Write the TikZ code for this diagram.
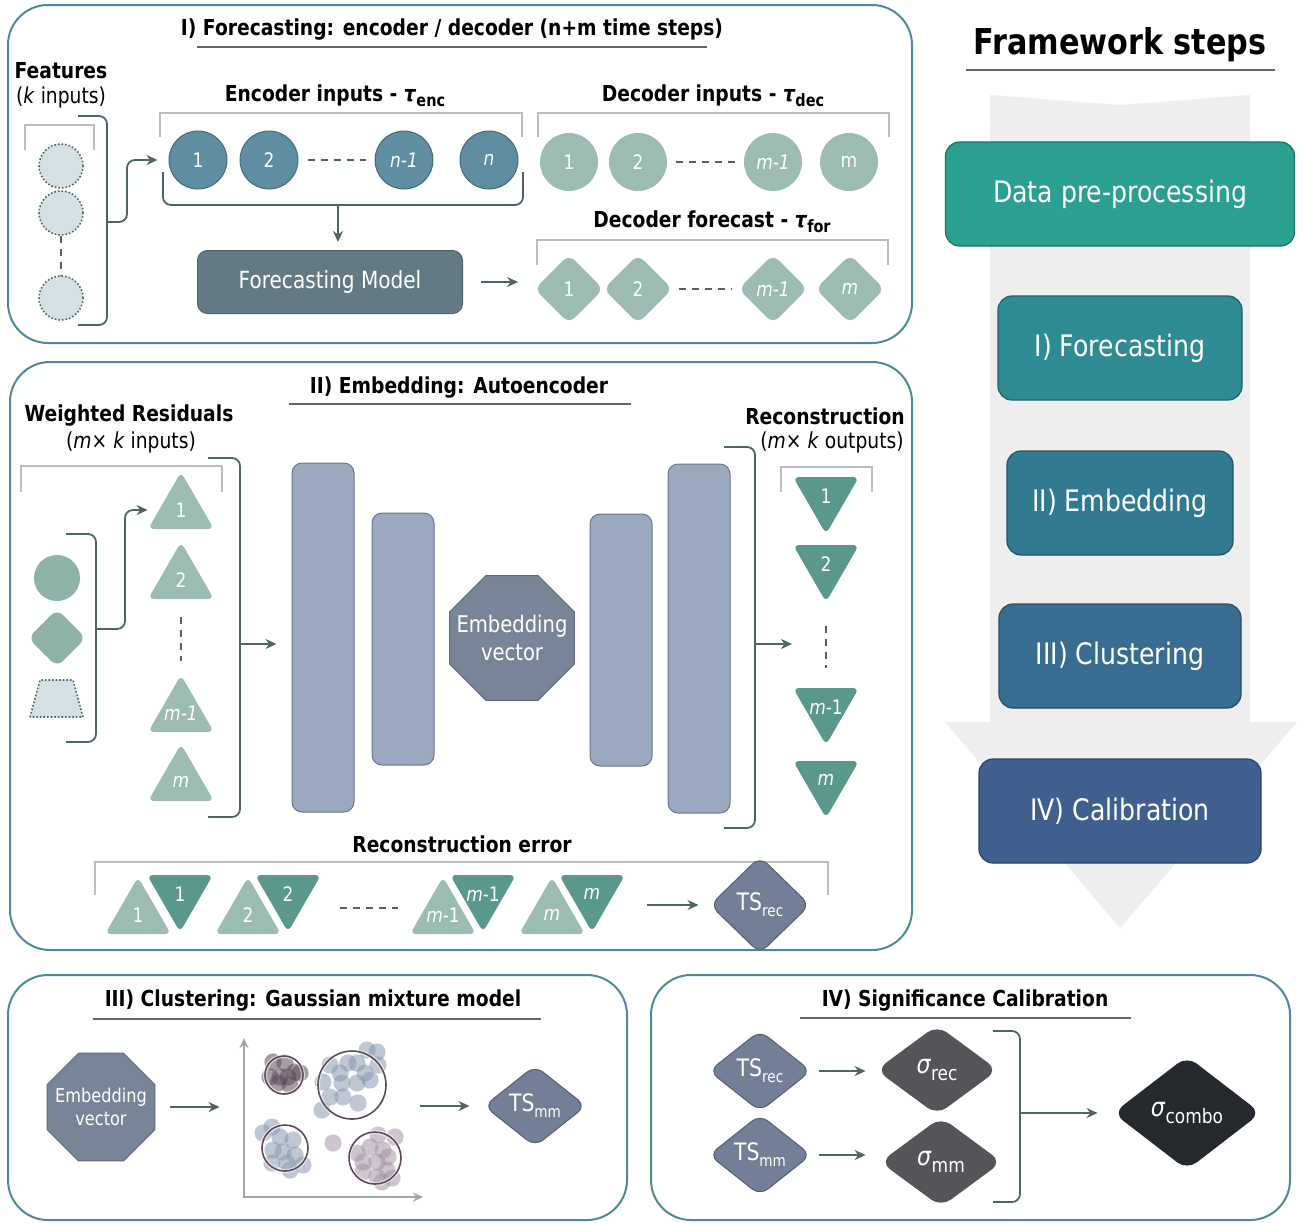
\documentclass[tikz,border=0pt]{standalone}
\usepackage{fontspec}
\setmainfont{DejaVu Sans}[FakeStretch=0.85]
\usetikzlibrary{shapes.geometric,arrows.meta,positioning}

\definecolor{panelc}{HTML}{4B8A9C}
\definecolor{linkc}{HTML}{4E6662}
\definecolor{bracketc}{HTML}{BDBDBD}
\definecolor{encc}{HTML}{5F8DA1}
\definecolor{sagec}{HTML}{9CBBB1}
\definecolor{resc}{HTML}{8DB2A7}
\definecolor{recc}{HTML}{5A978D}
\definecolor{modelc}{HTML}{637A85}
\definecolor{barc}{HTML}{9AA9BF}
\definecolor{octc}{HTML}{788598}
\definecolor{tsc}{HTML}{737F96}
\definecolor{sigc}{HTML}{535559}
\definecolor{comboc}{HTML}{25282C}
\definecolor{featc}{HTML}{D5E0E4}
\definecolor{flowc}{HTML}{EEEEEE}
\definecolor{stepa}{HTML}{2AA090}
\definecolor{stepb}{HTML}{2E8A93}
\definecolor{stepc}{HTML}{327A92}
\definecolor{stepd}{HTML}{386C90}
\definecolor{stepe}{HTML}{3F5F8F}
\definecolor{ptblue}{HTML}{8A9AB0}
\definecolor{ptdark}{HTML}{5D4C5B}
\definecolor{ptmauve}{HTML}{A494A6}
\definecolor{ringc}{HTML}{5E4A5A}

\newcommand{\fs}[1]{\fontsize{#1}{#1}\selectfont}
\newcommand{\subs}[2]{\raisebox{-0.45ex}{\fs{#1}#2}}

\tikzset{
  panel/.style={draw=panelc, line width=1pt, rounded corners=20pt},
  link/.style={draw=linkc, line width=0.9pt, -{Stealth[length=5.5pt,width=5pt]}},
  brack/.style={draw=linkc, line width=0.9pt, rounded corners=4pt},
  graybrack/.style={draw=bracketc, line width=1.3pt},
  dashline/.style={draw=linkc, line width=0.9pt, dash pattern=on 3.5pt off 3pt},
  uline/.style={draw=black!60, line width=0.9pt},
  ttl/.style={font=\bfseries\fs{11}},
  lbl/.style={font=\fs{11}},
  tlab/.style={text=white, font=\fs{10}, inner sep=0pt},
  octlab/.style={text=white, align=center, inner sep=0pt},
  encnode/.style={circle, minimum size=29pt, inner sep=0pt, fill=encc, draw=encc!75!black, line width=0.5pt, text=white, font=\fs{10}},
  decnode/.style={circle, minimum size=29pt, inner sep=0pt, fill=sagec, text=white, font=\fs{10}},
  fornode/.style={diamond, minimum width=34.5pt, minimum height=34.5pt, inner sep=0pt, rounded corners=4pt, fill=sagec, text=white, font=\fs{10}},
  featnode/.style={circle, minimum size=22pt, inner sep=0pt, fill=featc, draw=linkc, densely dotted, line width=0.8pt},
  uptri/.style={regular polygon, regular polygon sides=3, minimum size=38pt, inner sep=0pt, rounded corners=3pt, fill=sagec},
  downtri/.style={uptri, shape border rotate=180, fill=recc},
  bar/.style={rectangle, rounded corners=5pt, fill=barc, draw=barc!70!black, line width=0.5pt, minimum width=31pt, inner sep=0pt},
  octa/.style={regular polygon, regular polygon sides=8, inner sep=0pt, fill=octc, draw=octc!80!black, line width=0.5pt},
  tsnode/.style={diamond, rounded corners=5pt, inner sep=0pt, fill=tsc, draw=tsc!75!black, line width=0.5pt, text=white, font=\fs{12}},
  signode/.style={diamond, rounded corners=6pt, inner sep=0pt, fill=sigc, text=white, font=\fs{13}},
  stepbox/.style={rectangle, rounded corners=7pt, minimum height=52pt, fill=#1, draw=#1!70!black, line width=0.6pt, text=white, font=\fs{14.8}},
  axisline/.style={draw=black!35, line width=0.9pt, {Stealth[length=5pt,width=4.5pt]}-{Stealth[length=5pt,width=4.5pt]}},
  ringline/.style={draw=ringc, line width=0.8pt},
}

\begin{document}
\begin{tikzpicture}[x=0.5pt, y=-0.5pt]
\fill[white] (0,0) rectangle (1304,1222);
\useasboundingbox (0,0) rectangle (1304,1222);

% panels
\draw[panel] (8,5) rectangle (912,343);
\draw[panel] (10,362) rectangle (912,950);
\draw[panel] (8,975) rectangle (627,1220);
\draw[panel] (651,975) rectangle (1290,1220);

% framework steps
\node[font=\bfseries\fs{17.8}] (fwt) at (1120,45) {Framework steps};
\draw[uline] (966,70) -- (1275,70);
\fill[flowc] (990,95) -- (1120,105) -- (1250,95) -- (1250,722) -- (1297,722) -- (1120,928) -- (945,722) -- (990,722) -- cycle;
\node[stepbox=stepa, minimum width=174.5pt] (s0) at (1120,194) {Data pre-processing};
\node[stepbox=stepb, minimum width=122pt] (s1) at (1120,348) {I) Forecasting};
\node[stepbox=stepc, minimum width=113pt] (s2) at (1120,503) {II) Embedding};
\node[stepbox=stepd, minimum width=121pt] (s3) at (1120,656) {III) Clustering};
\node[stepbox=stepe, minimum width=141pt] (s4) at (1120,811) {IV) Calibration};

% I) forecasting
\node[ttl] (t1) at (452,30) {I) Forecasting: encoder / decoder (n+m time steps)};
\draw[uline] (197,47) -- (707,47);

\node[ttl] (feat) at (61,71) {Features};
\node[lbl] (featk) at (61,97) {(\textit{k} inputs)};
\draw[graybrack] (25,150) |- (94,125) -- (94,150);
\foreach \i/\y in {1/166, 2/213, 3/298}
  \node[featnode] (f\i) at (61,\y) {};
\draw[dashline] (f2) -- (f3);
\draw[brack] (78,116) -- (107,116) -- (107,325) -- (78,325);
\coordinate (fmid) at (107,222);

\node[ttl] (enct) at (335,96) {Encoder inputs - \textit{τ}\subs{8.5}{enc}};
\draw[graybrack] (160,137) |- (522,113) -- (522,137);
\foreach \i/\x/\t in {1/198/1, 2/269/2, 3/404/\textit{n-1}, 4/489/\textit{n}}
  \node[encnode] (e\i) at (\x,160) {\t};
\draw[dashline, shorten <=4.5pt, shorten >=4.5pt] (e2) -- (e3);
\draw[link, rounded corners=4pt, shorten >=5.5pt] (fmid) -- ++(20,0) |- (e1.west);
\draw[brack] (163,172) -- (163,205) -- (523,205) -- (523,172);
\coordinate (emid) at (338,205);

\node[rectangle, rounded corners=5pt, fill=modelc, draw=modelc!80!black, line width=0.5pt, minimum width=132.5pt, minimum height=31.5pt, text=white, font=\fs{11.8}] (model) at (330,282) {Forecasting Model};
\draw[link, shorten >=4pt] (emid) -- (emid |- model.north);

\node[ttl] (dect) at (713,96) {Decoder inputs - \textit{τ}\subs{8.5}{dec}};
\draw[graybrack] (538,137) |- (889,113) -- (889,137);
\foreach \i/\x/\t in {1/569/1, 2/638/2, 3/773/\textit{m-1}, 4/849/m}
  \node[decnode] (d\i) at (\x,162) {\t};
\draw[dashline, shorten <=4.5pt, shorten >=4.5pt] (d2) -- (d3);

\node[ttl] (fort) at (712,222) {Decoder forecast - \textit{τ}\subs{8.5}{for}};
\draw[graybrack] (537,265) |- (888,240) -- (888,265);
\foreach \i/\x/\t in {1/569/1, 2/638/2, 3/773/\textit{m-1}, 4/850/\textit{m}}
  \node[fornode] (g\i) at (\x,289) {\t};
\draw[dashline, shorten <=3pt, shorten >=3pt] (g2) -- (g3);
\draw[link, shorten <=9pt, shorten >=8pt] (model.east) -- (model.east -| g1.west);

% II) embedding
\node[ttl] (t2) at (459,388) {II) Embedding: Autoencoder};
\draw[uline] (289,404) -- (631,404);

\node[ttl] (wrt) at (129,416) {Weighted Residuals};
\node[lbl] (wrk) at (131,442) {(\textit{m}× \textit{k} inputs)};
\draw[graybrack] (21,492) |- (222,466) -- (222,492);
\node[circle, minimum size=23pt, inner sep=0pt, fill=resc] (rc) at (57,578) {};
\node[diamond, minimum width=29pt, minimum height=29pt, inner sep=0pt, rounded corners=4pt, fill=resc] (rd) at (57,638) {};
\draw[fill=featc, draw=linkc, densely dotted, line width=0.8pt] (30,717) -- (40,680) -- (73,680) -- (83,717) -- cycle;
\draw[brack] (66,534) -- (96,534) -- (96,742) -- (66,742);
\coordinate (rmid) at (96,629);

\foreach \i/\y/\t in {1/510/1, 2/580/2, 3/713/\textit{m-1}, 4/782/\textit{m}}
  \node[uptri, label={[tlab]center:\t}] (w\i) at (181,\y) {};
\draw[dashline, shorten <=9pt, shorten >=6.5pt] (w2) -- (w3);
\draw[link, rounded corners=4pt, shorten >=5.5pt] (rmid) -- ++(29,0) |- (w1.west);

\draw[brack] (208,458) -- (240,458) -- (240,817) -- (208,817);
\coordinate (lmid) at (240,644);

\node[bar, minimum height=174.5pt] (bar1) at (323,637.5) {};
\node[bar, minimum height=126pt] (bar2) at (403,639) {};
\node[octa, minimum size=67.6pt, label={[octlab, font=\fontsize{11.5}{14}\selectfont]center:{Embedding\\vector}}] (emb) at (512,638) {};
\node[bar, minimum height=126pt] (bar3) at (621,640) {};
\node[bar, minimum height=174.5pt] (bar4) at (699,638.5) {};
\draw[link, shorten >=7.5pt] (lmid) -- (lmid -| bar1.west);

\draw[brack] (724,447) -- (755,447) -- (755,828) -- (724,828);
\coordinate (rbmid) at (755,644);
\coordinate (rdots) at (792,644);
\draw[link] (rbmid) -- (rdots);

\node[ttl] (rect) at (825,416) {Reconstruction};
\node[lbl] (reck) at (832,442) {(\textit{m}× \textit{k} outputs)};
\draw[graybrack] (781,492) |- (872,467) -- (872,492);
\foreach \i/\y/\t in {1/496/1, 2/564/2, 3/707/\textit{m}-1, 4/780/\textit{m}}
  \node[downtri, label={[tlab]center:\t}] (r\i) at (826,\y) {};
\draw[dashline, shorten <=11.5pt, shorten >=10pt] (r2) -- (r3);

\node[ttl] (errt) at (462,844) {Reconstruction error};
\draw[graybrack] (95,895) |- (828,862) -- (828,895);
\foreach \i/\xa/\xb/\t in {1/138/180/1, 2/248/288/2, 3/443/483/\textit{m}-1, 4/552/592/\textit{m}} {
  \node[uptri, label={[tlab]center:\t}] (p\i) at (\xa,915) {};
  \node[downtri, label={[tlab]center:\t}] (q\i) at (\xb,894) {};
}
\draw[dashline] (340,908) -- (398,908);
\node[tsnode, minimum width=50pt, minimum height=48.5pt] (tsrec) at (760,905) {TS\subs{8}{rec}};
\draw[link, shorten <=16.5pt, shorten >=5.5pt] (q4.east |- tsrec.west) -- (tsrec.west);

% III) clustering
\node[ttl] (t3) at (313,1000) {III) Clustering: Gaussian mixture model};
\draw[uline] (93,1019) -- (541,1019);
\node[octa, minimum size=58.4pt, label={[octlab, font=\fontsize{9.5}{11.5}\selectfont]center:{Embedding\\vector}}] (emb2) at (101,1107) {};
\node[minimum width=87pt, minimum height=79.5pt, inner sep=0pt] (plot) at (331,1117.5) {};
\draw[axisline] (244,1038) -- (244,1197) -- (423,1197);
\foreach \x/\y in {367/1050, 377/1052, 378/1065, 357/1063, 348/1063, 330/1065, 340/1073, 365/1073, 323/1082, 342/1083, 357/1083, 370/1080, 330/1097, 343/1097, 358/1103, 322/1110,
    263/1133, 272/1127, 280/1137, 293/1140, 273/1150, 283/1152, 295/1155, 272/1163, 287/1163, 303/1165, 290/1170}
  \fill[ptblue, fill opacity=0.55] (\x,\y) circle (4.3pt);
\foreach \x/\y in {273/1062, 285/1063, 295/1072, 270/1077, 280/1077, 288/1077, 278/1083, 290/1085, 300/1073}
  \fill[ptdark, fill opacity=0.55] (\x,\y) circle (4.3pt);
\foreach \x/\y in {333/1143, 378/1135, 395/1137, 357/1153, 370/1147, 383/1150, 363/1162, 377/1162, 388/1157, 387/1170, 363/1172, 377/1177, 392/1178, 382/1182}
  \fill[ptmauve, fill opacity=0.55] (\x,\y) circle (4.3pt);
\foreach \x/\y/\r in {284/1075/9.5pt, 352/1085/17pt, 285/1148/11.5pt, 375/1158/13pt} {
  \draw[white, line width=2pt, opacity=0.6] (\x,\y) circle (\r);
  \draw[ringline] (\x,\y) circle (\r);
}
\node[tsnode, minimum width=51pt, minimum height=40.5pt] (tsmm) at (535,1106) {TS\subs{8}{mm}};
\draw[link, shorten <=7.5pt, shorten >=12pt] (emb2.east) -- (emb2.east -| plot.west);
\draw[link, shorten <=1pt, shorten >=7pt] (plot.east |- tsmm.west) -- (tsmm.west);

% IV) significance calibration
\node[ttl] (t4) at (965,1000) {IV) Significance Calibration};
\draw[uline] (800,1018) -- (1131,1018);
\node[tsnode, minimum width=51pt, minimum height=40.5pt] (tsr) at (760,1071) {TS\subs{8}{rec}};
\node[tsnode, minimum width=51pt, minimum height=40.5pt] (tsm) at (760,1155) {TS\subs{8}{mm}};
\node[signode, minimum width=61pt, minimum height=45pt] (sr) at (937,1070) {\textit{σ}\subs{10}{rec}};
\node[signode, minimum width=61pt, minimum height=45pt] (sm) at (941,1162) {\textit{σ}\subs{10}{mm}};
\node[signode, fill=comboc, minimum width=74pt, minimum height=57pt] (sc) at (1187,1113) {\textit{σ}\subs{10}{combo}};
\draw[link, shorten <=3.5pt, shorten >=5pt] (tsr.east) -- (tsr.east -| sr.west);
\draw[link, shorten <=3.5pt, shorten >=7pt] (tsm.east) -- (tsm.east -| sm.west);
\draw[brack] (993,1031) -- (1020,1031) -- (1020,1202) -- (993,1202);
\coordinate (cmid) at (1020,1113);
\draw[link, shorten >=7.5pt] (cmid) -- (sc.west);

\end{tikzpicture}
\end{document}
